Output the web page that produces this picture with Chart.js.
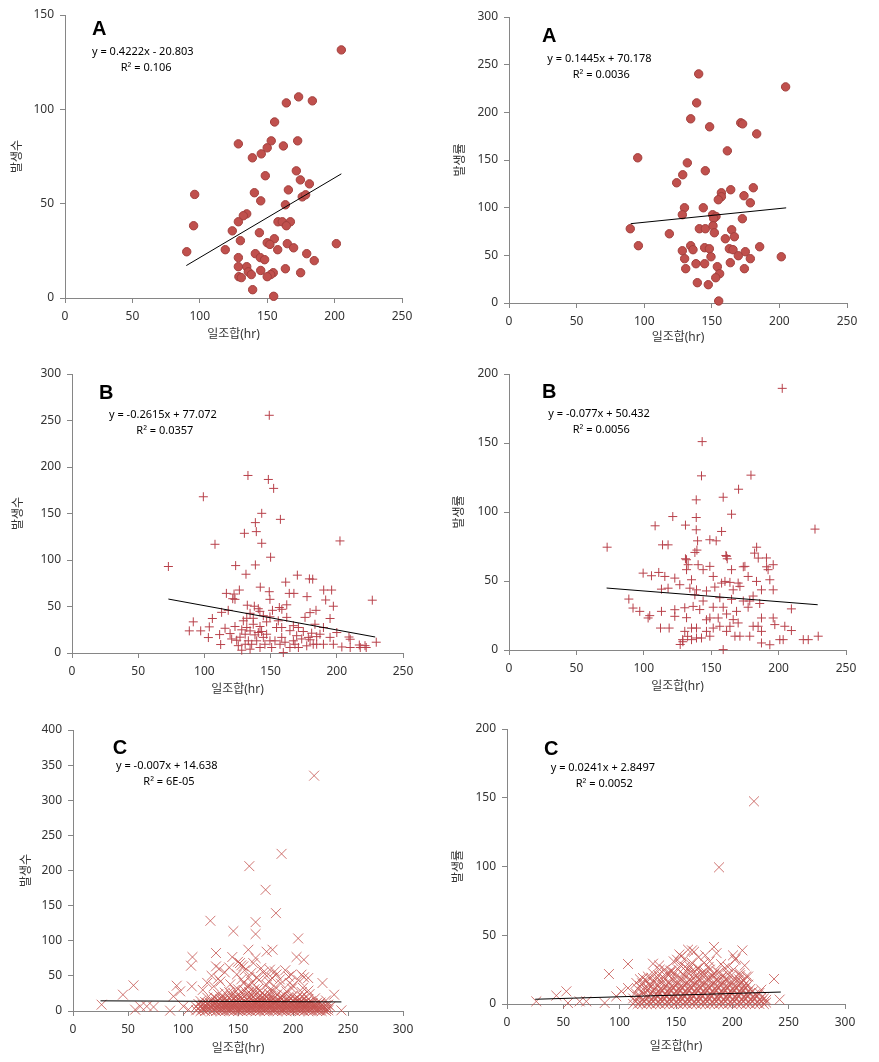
<!DOCTYPE html>
<html><head><meta charset="utf-8">
<script src="https://cdn.jsdelivr.net/npm/chart.js@4.4.1/dist/chart.umd.min.js"></script>
<style>html,body{margin:0;padding:0;background:#fff;width:879px;height:1062px;overflow:hidden;position:relative}canvas{position:absolute}</style>
</head><body>
<script>
// ---------- DATA ----------
const xTitle = '일조합(hr)';
const yTitleCount = '발생수';
const yTitleRate = '발생률';

// Panel A: 발생수 vs 일조합
const ptsA_count = [[205,131.5],[173.3,106.6],[183.5,104.5],[164.2,103.4],[155.5,93.3],[128.6,81.7],[153,83.3],[150,79.6],[162,80.6],[172.6,83.3],[145.6,76.4],[139,74.3],[148.6,64.8],[171.6,67.4],[174.6,62.6],[181.3,60.5],[165.7,57.3],[140.5,55.8],[96.2,54.9],[176,53.6],[178.5,54.7],[145.2,51.5],[163.5,49.4],[134.8,44.6],[132.3,43.6],[128.6,40.4],[158,40.4],[161.2,40.4],[167.2,40.4],[164.2,38.3],[95.4,38.3],[124.1,35.6],[144.2,34.6],[130.1,30.4],[155.3,31.4],[150,29.3],[152,28.4],[164.9,28.8],[169.6,26.6],[201.3,28.8],[90.3,24.5],[118.9,25.6],[157.8,25.6],[141.2,23.5],[179.3,23.5],[144.9,21.4],[148.1,20.3],[128.6,21.4],[184.9,19.8],[128.6,16.6],[134.8,16.6],[136,13.9],[138.2,12.4],[145.2,14.6],[163.5,15.5],[174.8,13.4],[154.5,13.4],[152.6,12.4],[150,11.3],[129,11.3],[130.8,10.8],[139.2,4.4],[154.8,0.9]];
const trendA_count = [[90,17.2],[205,65.8]];

// Panel A: 발생률 vs 일조합
const ptsA_rate = [[140.3,240.3],[204.6,226.7],[138.8,209.9],[134.4,193.2],[148.4,184.8],[171.4,189],[172.8,187.9],[183.2,177.4],[161.5,159.6],[95.2,152.3],[131.9,147],[128.5,134.5],[145.2,138.7],[124,126.1],[157.1,115.6],[164,118.8],[180.7,120.9],[173.8,112.5],[157.1,111.5],[154.8,108.3],[178.5,105.1],[129.8,99.9],[143.7,99.9],[128.2,92.6],[150.6,92.6],[153.1,90.8],[151.4,88.7],[172.6,88.4],[89.7,77.9],[140.8,77.9],[145.2,77.9],[164.7,76.8],[150.9,81],[151.9,73.7],[118.6,72.6],[160,67.4],[166.7,69.5],[95.7,60.1],[134.4,60.1],[136.1,55.9],[128.2,54.8],[144.7,58],[148.2,56.9],[163,56.9],[165.7,55.9],[174.8,53.8],[185.4,59],[169.6,49.6],[149.4,48.5],[129.9,46.5],[178.5,46.5],[201.4,48.5],[138.3,41.2],[144.7,41.2],[163.7,42.3],[154.1,38.1],[130.7,36],[174.1,36],[155.8,30.7],[152.9,26.5],[139.3,21.3],[147.4,19.2],[155.1,2.1]];
const trendA_rate = [[90,83.2],[205,99.8]];

// Panel B: 발생수
const ptsB_count = [[149,255.6],[132.9,190.9],[148.3,186.6],[152.3,177],[99.2,168],[143.3,150.2],[138.5,140.2],[157.4,143.7],[139.2,130.5],[130.2,128.7],[202.4,120.5],[108,116.9],[143.3,118],[150,103],[72.8,93],[123.6,94],[138.5,94.7],[131.4,84.7],[170.2,83.7],[179.3,79.7],[181.8,79.4],[161.4,76.2],[142.2,70.8],[226.8,56.8],[126.4,67.7],[116.6,64.1],[122.4,63.4],[149,65.9],[164.1,64.1],[167.6,64.1],[190.1,67.7],[196.1,67.7],[121.4,58.4],[123.1,57.7],[149.5,57.7],[177.5,60.6],[191.6,57],[132.4,51.4],[137.7,50.3],[156.6,48.9],[162.2,51.8],[140.7,47.6],[141.9,44.8],[113,43.7],[118,45.9],[151.4,45.9],[158.5,47],[184.3,45.9],[197.4,50.3],[194.9,37.1],[91.6,33.5],[106,37.1],[103.7,28.1],[88.6,23.8],[97.2,23.8],[103,16.6],[111.5,19.8],[112.3,9.1],[119.4,20.9],[124.4,13.7],[128.2,3],[129.4,34.6],[132,27.4],[134.5,23.8],[130.8,20.2],[133.2,13.1],[135.7,9.4],[142,5.9],[139.5,13.1],[136.9,30.9],[140.7,22],[147,20.2],[145.7,9.4],[154.5,27.4],[153.3,13.1],[158.4,27.4],[157.1,9.4],[159.6,0.5],[162.2,38.3],[164.6,24],[167.2,29.4],[169.7,18.6],[168.4,9.4],[171,27.4],[176,38.3],[178.5,16.8],[179.8,43.4],[183.5,30.9],[184.8,9.4],[187.3,20.2],[189.9,27.4],[194.9,16.8],[197.4,9.4],[203.8,6.5],[210.1,14.8],[210.1,5.9],[217.7,5.9],[222.2,5.9],[229.8,11.6],[115.6,26.6],[120.6,15.1],[125.6,7.9],[147,33.5],[149.5,38.9],[173.5,15.1],[182.2,9.4],[189.9,9.4],[200,22],[134.5,42.7],[132,37.3],[138.2,19.5],[142,28.5],[126.9,17],[150.8,5.9],[164.6,5.9],[171,5.9],[177.3,7.7],[130.8,9.4],[134.5,4.1],[144.5,16.8],[149.5,13.1],[158.4,16.8],[160.9,11.6],[167.2,13.1],[155.8,34.6],[136.9,37.3],[174.7,23.1],[181,21.3],[184.8,17.6],[144.5,40.1],[128.2,24.9],[123.1,28.5],[143.2,23.1],[179.8,14.2],[209.2,17.2],[217,8.6],[221.3,7.9]];
const trendB_count = [[72.8,58.0],[229,17.2]];

// Panel B: 발생률
const ptsB_rate = [[202.7,189.6],[143.3,151],[142.8,126.2],[179.5,126.7],[170.3,116.5],[138.9,108.8],[158.9,110.7],[165.1,98.4],[121.5,96.7],[138.9,96],[108.4,90],[130.9,90.5],[227,87.6],[138.9,87.1],[157.7,85.9],[72.8,74.5],[149,79.9],[153.7,79.1],[139.9,79.1],[113.9,76.2],[118,76.2],[183.7,74.5],[137.9,70.7],[182.2,70.2],[139.4,72.4],[160.9,68.5],[161.9,66.1],[130.9,66.1],[184.9,66.6],[191.1,60.3],[196,61.8],[173.8,60.3],[88.9,36.9],[92,30.4],[97,28],[103.2,23.2],[104.4,24.9],[113.1,28],[112.4,15.9],[118.8,15.9],[123,29.2],[123,24.4],[99.5,55.7],[105.7,53.8],[111.1,56.2],[115.6,53.3],[123,52.1],[126.7,47.3],[113.1,44.1],[118,44.8],[131.7,65.4],[132.9,61.8],[131.7,58.2],[135.4,50.9],[134.2,44.8],[139.1,43.6],[137.9,40],[140.3,61.8],[144,58.2],[149,60.6],[151.5,53.3],[152.7,45.6],[157.7,48.5],[160.2,49.7],[163.9,49],[166.3,43.6],[170,48.5],[175,60.6],[177.4,53.3],[183.6,49.7],[187.3,43.6],[191,66.7],[192.2,58.2],[193.5,50.9],[196,43.6],[161.4,67.9],[165.1,58.2],[130.4,30.6],[131.7,23.4],[136.6,31.6],[139.1,15.9],[141.5,29.3],[135.4,15.9],[128.8,7.5],[132.5,9.9],[139.1,8.7],[146.5,21.9],[149,23.2],[151.5,31],[151.5,15.9],[156.4,17.2],[158.9,31],[161.4,26.1],[163.9,17.2],[166.3,22],[170,19.6],[167.6,10],[171.3,10],[177.4,31],[178.6,10],[181.1,17.2],[184.8,17.2],[186,33.7],[187.3,23.2],[187.3,13.5],[193.5,3.8],[196,23.2],[197.2,18.4],[200.9,7.5],[203.4,7.5],[204.6,17.2],[209.5,29.8],[209.5,14.1],[218.3,7.5],[222,7.5],[229.4,10],[187.3,5.1],[158.9,0.3],[130.4,13.5],[146.5,13.5],[149,10],[161.4,13.5],[142.8,8.7],[135.4,7.5],[156.4,37.9],[165.1,36.7],[144,35.5],[146.5,42.8],[173.8,35.5],[178.6,35.5],[181.1,39.1],[171.3,46.1],[155.2,23.2],[168.8,28],[127,4],[129,6]];
const trendB_rate = [[72.4,44.9],[229,32.8]];

// Panel C: 발생수 (scattered points)
const ptsC_count = [[219.2,335],[189.6,223.7],[160.3,206.2],[175.1,172.5],[184.5,139.3],[124.9,128.4],[166,126.5],[145.8,113.7],[166,109.5],[204.7,103.3],[159.4,87.2],[181.4,87.2],[176,84.4],[130,82.5],[108.6,76.8],[144.8,76.8],[203.2,76.8],[209.9,73],[166,75.4],[107.3,64.5],[130,63.5],[151.8,68.2],[154.8,63.5],[163.9,68.2],[179,58.8],[183.5,56.4],[198.6,51.7],[207.7,51.7],[213.8,46.9],[45.4,23.2],[55,36.5],[26,9],[226.8,39.8],[237.4,23.2],[244,0.9],[94.3,36],[97.4,28],[108,35],[91.3,20.9],[88.3,0.5],[56.5,1.9],[61.1,6.6],[67.1,6.6],[73.2,5.7],[100.4,6.6],[104.9,1.9],
[128,35],[132,46],[138,55],[142,62],[150,70],[153,65],[162,54],[167,48],[171,61],[178,42],[185,52],[188,45],[193,58],[197,40],[200,36],[205,44],[209,33],[214,29],[118,30],[122,40],[126,50],[133,60],[155,40],[160,36],[176,50],[196,49],[210,48],[215,24],[220,18],[225,12],[230,15],[232,9],[234,6],
[134,42],[143,38],[147,30],[149,52],[153,45],[156,58],[158,35],[160,48],[163,40],[165,31],[169,44],[170,29],[173,55],[176,37],[179,30],[181,47],[184,34],[189,39],[194,28],[199,32],[208,27]];
// Panel C: 발생수 (dense low band, listed column by column: x, then y values)
const denseC_count = [
[112,[1,6]],[114,[3,10]],[116,[0,7,14]],[118,[2,5,9]],[120,[0,4,8,13]],[122,[1,6,11,19]],[124,[3,7,12]],[126,[0,5,9,16]],[128,[2,7,11,20]],[130,[0,4,8,13,18]],
[132,[1,6,10,15,24]],[134,[0,3,8,12,17]],[136,[1,5,9,14,21]],[138,[0,4,7,11,18,26]],[140,[2,6,9,13,16]],[142,[0,3,8,12,19,27]],[144,[1,5,10,15,22]],[146,[0,4,7,11,17,25]],[148,[2,6,9,14,20]],[150,[0,3,8,12,16,23,31]],
[152,[1,5,10,15,19]],[154,[0,4,7,11,18,26]],[156,[2,6,9,13,21,29]],[158,[0,3,8,12,16,24]],[160,[1,5,10,14,19,27]],[162,[0,4,7,11,17,22]],[164,[2,6,9,13,20,28]],[166,[0,3,8,12,16,24]],[168,[1,5,10,14,18,31]],[170,[0,4,7,11,15,21]],
[172,[2,6,9,13,19,26]],[174,[0,3,8,12,17,23]],[176,[1,5,10,15,20]],[178,[0,4,7,11,16,25]],[180,[2,6,9,14,18,22]],[182,[0,3,8,12,17,28]],[184,[1,5,10,13,20]],[186,[0,4,7,11,15,24]],[188,[2,6,9,14,19]],[190,[0,3,8,12,17,21]],
[192,[1,5,10,13,23]],[194,[0,4,7,11,16]],[196,[2,6,9,14,20]],[198,[0,3,8,12,18]],[200,[1,5,10,15,22]],[202,[0,4,7,11,17]],[204,[2,6,9,13,19]],[206,[0,3,8,12,16]],[208,[1,5,10,14,21]],[210,[0,4,7,11,18]],
[212,[2,6,9,13]],[214,[0,3,8,12,17]],[216,[1,5,10,14]],[218,[0,4,7,11]],[220,[2,6,9]],[222,[0,3,8,12]],[224,[1,5,10]],[226,[0,4,7]],[228,[2,6]],[230,[0,3,8]],[232,[1,4]]];
const trendC_count = [[25,14.46],[244,12.93]];

// Panel C: 발생률 (scattered points)
const ptsC_rate = [[219.2,147.4],[188.2,99.4],[183.7,41.5],[164.2,39],[160.7,39.5],[208.9,39],[200.6,35.4],[202.4,32.2],[176,35.4],[179.9,31],[107.4,29.1],[129.6,29.3],[150.9,32.2],[154.7,34.7],[90.5,21.8],[237,18.2],[225.7,10.4],[52.7,9.2],[43.8,6.1],[26,1.9],[54.1,0.7],[64.5,1.9],[70.4,1.9],[86.7,0.7],[97,5.6],[101.5,9.2],[107.4,11.6],[242,3.2],[114.8,15.3],[120.7,18.9],[135.5,25],[144.4,22.5],[162.1,27.4],[166.6,23.8],[193.2,26.2],[206.5,22.5],[212.4,20.1],
[130,22],[135,28],[140,25],[148,31],[153,36],[158,33],[166,38],[170,34],[175,30],[186,37],[190,29],[196,27],[203,33],[211,28],[125,20],[118,18],[145,24],
[146,24],[154,28],[161,25],[164,30],[169,26],[174,23],[179,27],[182,21],[186,24],[196,22],[201,25],[207,21],[214,20]];
// Panel C: 발생률 (dense low band, column by column)
const denseC_rate = [
[112,[0,4]],[114,[2,8]],[116,[0,5,11]],[118,[1,6,13]],[120,[0,3,9,15]],[122,[2,7,12]],[124,[0,4,10,17]],[126,[1,6,11,14]],[128,[0,3,8,13,19]],[130,[2,5,10,16]],
[132,[0,4,7,12,18]],[134,[1,6,9,14,21]],[136,[0,3,8,11,17]],[138,[2,5,10,15,20]],[140,[0,4,7,12,18]],[142,[1,6,9,14,22]],[144,[0,3,8,11,16]],[146,[2,5,10,13,19]],[148,[0,4,7,12,17,23]],[150,[1,6,9,14,20]],
[152,[0,3,8,11,16,25]],[154,[2,5,10,13,19]],[156,[0,4,7,12,17,22]],[158,[1,6,9,14,20,27]],[160,[0,3,8,11,16,23]],[162,[2,5,10,13,18]],[164,[0,4,7,12,17,24]],[166,[1,6,9,14,19]],[168,[0,3,8,11,16,21]],[170,[2,5,10,13,18,26]],
[172,[0,4,7,12,17,22]],[174,[1,6,9,14,20]],[176,[0,3,8,11,16,23]],[178,[2,5,10,13,19]],[180,[0,4,7,12,17,25]],[182,[1,6,9,14,20]],[184,[0,3,8,11,16,22]],[186,[2,5,10,13,18]],[188,[0,4,7,12,17,23]],[190,[1,6,9,14,19]],
[192,[0,3,8,11,16,21]],[194,[2,5,10,13,18]],[196,[0,4,7,12,17]],[198,[1,6,9,14,20]],[200,[0,3,8,11,16]],[202,[2,5,10,13,19]],[204,[0,4,7,12,17]],[206,[1,6,9,14,18]],[208,[0,3,8,11,16]],[210,[2,5,10,13,17]],
[212,[0,4,7,12,15]],[214,[1,6,9,14]],[216,[0,3,8,11]],[218,[2,5,9]],[220,[0,4,7]],[222,[1,6]],[224,[0,3,8]],[226,[2,5]],[228,[0,4]],[230,[1,3]]];
const trendC_rate = [[25,3.45],[243,8.7]];

function flatten(cols){ const out=[]; cols.forEach(c=>c[1].forEach(v=>out.push([c[0],v]))); return out; }

// ---------- PANELS ----------
const FONT = "'Noto Sans','Noto Sans CJK KR',sans-serif";
const TXT = '#333333';
const AXIS = '#868686';

const panels = [
  {left:0, top:0, w:427, h:353, xh:55, padTop:15, xmax:250, ymax:150, ystep:50, yTitle:yTitleCount, ytPad:10.8, xtPad:10.8,
   pts:ptsA_count, trend:trendA_count, kind:'circle',
   letter:'A', letterPos:[92,29], eq:'y = 0.4222x - 20.803', eqPos:[92,52], r2:'R² = 0.106', r2Pos:[120.7,67.7]},
  {left:444, top:2, w:428, h:356, xh:55, padTop:15, xmax:250, ymax:300, ystep:50, yTitle:yTitleRate, ytPad:9.5, xtPad:12.8,
   pts:ptsA_rate, trend:trendA_rate, kind:'circle',
   letter:'A', letterPos:[542,36], eq:'y = 0.1445x + 70.178', eqPos:[547.3,59], r2:'R² = 0.0036', r2Pos:[572.7,74.7]},
  {left:7, top:359, w:421, h:349, xh:55, padTop:15, xmax:250, ymax:300, ystep:50, yTitle:yTitleCount, ytPad:4.1, xtPad:10.8,
   pts:ptsB_count, trend:trendB_count, kind:'cross',
   letter:'B', letterPos:[99,393], eq:'y = -0.2615x + 77.072', eqPos:[109,415], r2:'R² = 0.0357', r2Pos:[136.3,430.7]},
  {left:444, top:359, w:427, h:346, xh:55, padTop:15, xmax:250, ymax:200, ystep:50, yTitle:yTitleRate, ytPad:8.8, xtPad:10.8,
   pts:ptsB_rate, trend:trendB_rate, kind:'cross',
   letter:'B', letterPos:[542,392], eq:'y = -0.077x + 50.432', eqPos:[548.3,413.7], r2:'R² = 0.0056', r2Pos:[572.7,429.7]},
  {left:8, top:715, w:420, h:346, xh:50, padTop:15, xmax:300, ymax:400, ystep:50, yTitle:yTitleCount, ytPad:11.5, xtPad:4.8,
   pts:ptsC_count.concat(flatten(denseC_count)), trend:trendC_count, kind:'crossRot',
   letter:'C', letterPos:[112.7,748], eq:'y = -0.007x + 14.638', eqPos:[116,766], r2:'R² = 6E-05', r2Pos:[143.3,781.7]},
  {left:442, top:714, w:428, h:340, xh:50, padTop:15, xmax:300, ymax:200, ystep:50, yTitle:yTitleRate, ytPad:9.1, xtPad:0.5,
   pts:ptsC_rate.concat(flatten(denseC_rate)), trend:trendC_rate, kind:'crossRot',
   letter:'C', letterPos:[544,749.5], eq:'y = 0.0241x + 2.8497', eqPos:[550.7,767.7], r2:'R² = 0.0052', r2Pos:[575.7,783.7]}
];

function markerStyle(kind){
  if(kind==='circle') return {pointStyle:'circle', pointRadius:4.2, backgroundColor:'#C0504D', borderColor:'#A23F3C', borderWidth:1};
  if(kind==='cross') return {pointStyle:'cross', pointRadius:4.5, backgroundColor:'#B8404A', borderColor:'#B8404A', borderWidth:1};
  return {pointStyle:'crossRot', pointRadius:7, backgroundColor:'rgba(196,82,79,0.8)', borderColor:'rgba(196,82,79,0.8)', borderWidth:1};
}

panels.forEach(p => {
  const cv = document.createElement('canvas');
  cv.style.left = p.left+'px'; cv.style.top = p.top+'px';
  cv.style.width = p.w+'px'; cv.style.height = p.h+'px';
  cv.width = p.w; cv.height = p.h;
  document.body.appendChild(cv);
  const annot = {
    id:'annot',
    afterDraw(chart){
      const ctx = chart.ctx;
      ctx.save();
      ctx.fillStyle = '#000'; ctx.textBaseline = 'middle'; ctx.textAlign = 'left';
      ctx.font = "bold 20px 'Liberation Sans', Arial, sans-serif";
      ctx.fillText(p.letter, p.letterPos[0]-p.left, p.letterPos[1]-p.top);
      ctx.font = "11px 'Noto Sans', sans-serif";
      ctx.fillText(p.eq, p.eqPos[0]-p.left, p.eqPos[1]-p.top);
      ctx.fillText(p.r2, p.r2Pos[0]-p.left, p.r2Pos[1]-p.top);
      ctx.restore();
    }
  };
  const ms = markerStyle(p.kind);
  new Chart(cv, {
    type:'scatter',
    data:{datasets:[
      {data:p.trend, showLine:true, borderColor:'#000', borderWidth:1, pointRadius:0, fill:false, order:0, clip:false},
      Object.assign({data:p.pts, showLine:false, order:1, clip:false}, ms)
    ]},
    options:{
      responsive:false, animation:false, devicePixelRatio:1,
      layout:{padding:{top:p.padTop, right:25, left:0, bottom:0}},
      plugins:{legend:{display:false}, tooltip:{enabled:false}},
      scales:{
        x:{type:'linear', min:0, max:p.xmax,
           ticks:{stepSize:50, padding:6, color:TXT, font:{family:FONT, size:12}, maxRotation:0},
           grid:{drawOnChartArea:false, drawTicks:true, tickLength:5, color:AXIS},
           border:{display:true, color:AXIS},
           title:{display:true, text:xTitle, color:TXT, font:{family:FONT, size:12}, padding:{top:0, bottom:p.xtPad}},
           afterFit(s){ s.height = p.xh; }},
        y:{type:'linear', min:0, max:p.ymax,
           ticks:{stepSize:p.ystep, padding:6, color:TXT, font:{family:FONT, size:12}},
           grid:{drawOnChartArea:false, drawTicks:true, tickLength:5, color:AXIS},
           border:{display:true, color:AXIS},
           title:{display:true, text:p.yTitle, color:TXT, font:{family:FONT, size:12}, padding:{top:p.ytPad, bottom:0}},
           afterFit(s){ s.width = 65; }}
      }
    },
    plugins:[annot]
  });
});
</script>
</body></html>
